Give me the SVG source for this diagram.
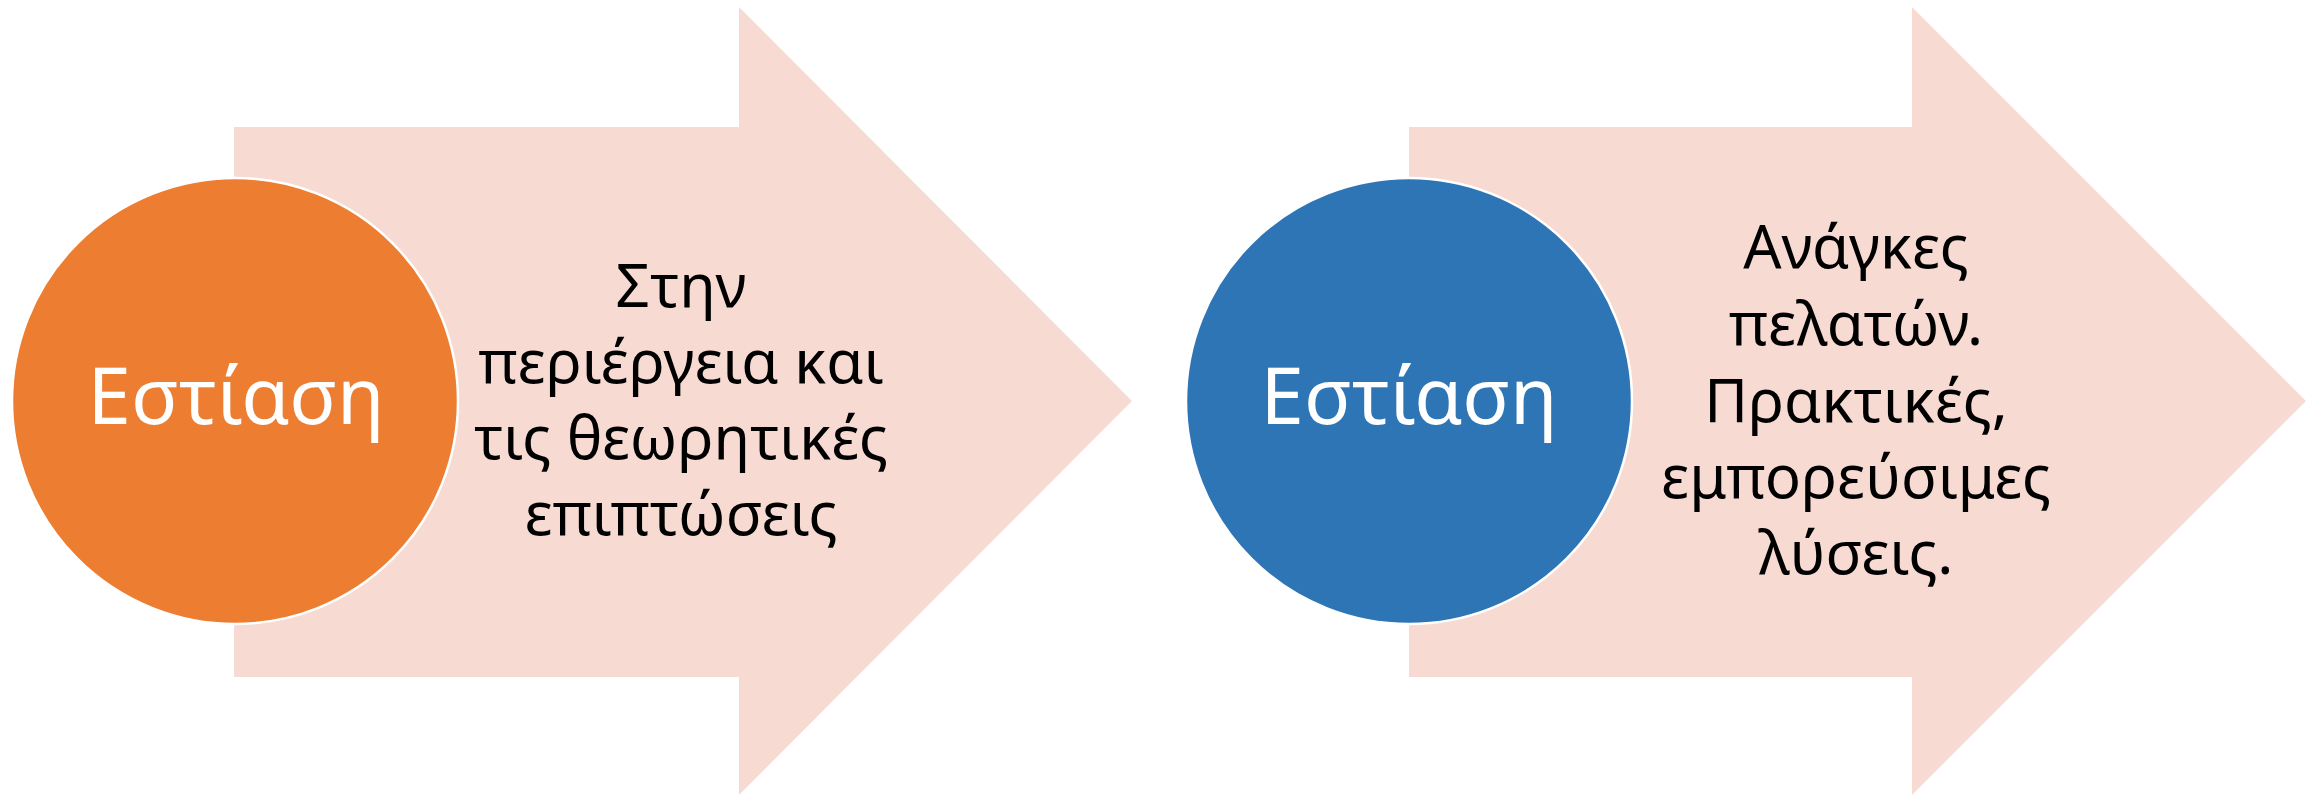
<svg xmlns="http://www.w3.org/2000/svg" width="2323" height="795" viewBox="0 0 2323 795">
<style>
.arrow{fill:#F7DBD3;}
.circ{stroke:#FFFFFF;stroke-width:2.5;}
.lbl{font-family:"Noto Sans","Open Sans","Liberation Sans",sans-serif;font-size:78px;fill:#FFFFFF;text-anchor:middle;}
.txt{font-family:"Noto Sans","Open Sans","Liberation Sans",sans-serif;font-size:60px;fill:#000000;text-anchor:middle;}
</style>
<rect width="2323" height="795" fill="#FFFFFF"/>
<g id="connectors"></g>
<g id="arrow1">
<polygon class="arrow" points="234,127 739,127 739,7 1132,401 739,795 739,677 234,677"/>
<text class="txt" x="681" y="307">Στην</text>
<text class="txt" x="681" y="383">περιέργεια και</text>
<text class="txt" x="681" y="459">τις θεωρητικές</text>
<text class="txt" x="681" y="535">επιπτώσεις</text>
</g>
<g id="circle1">
<circle class="circ" cx="235" cy="401" r="223" fill="#ED7D31"/>
<text class="lbl" x="236" y="424">Εστίαση</text>
</g>
<g id="arrow2">
<polygon class="arrow" points="1409,127 1912,127 1912,7 2306,401 1912,795 1912,677 1409,677"/>
<text class="txt" x="1856" y="268">Ανάγκες</text>
<text class="txt" x="1856" y="345">πελατών.</text>
<text class="txt" x="1856" y="422">Πρακτικές,</text>
<text class="txt" x="1856" y="498">εμπορεύσιμες</text>
<text class="txt" x="1856" y="574">λύσεις.</text>
</g>
<g id="circle2">
<circle class="circ" cx="1409" cy="401" r="223" fill="#2E75B6"/>
<text class="lbl" x="1409" y="424">Εστίαση</text>
</g>
</svg>
